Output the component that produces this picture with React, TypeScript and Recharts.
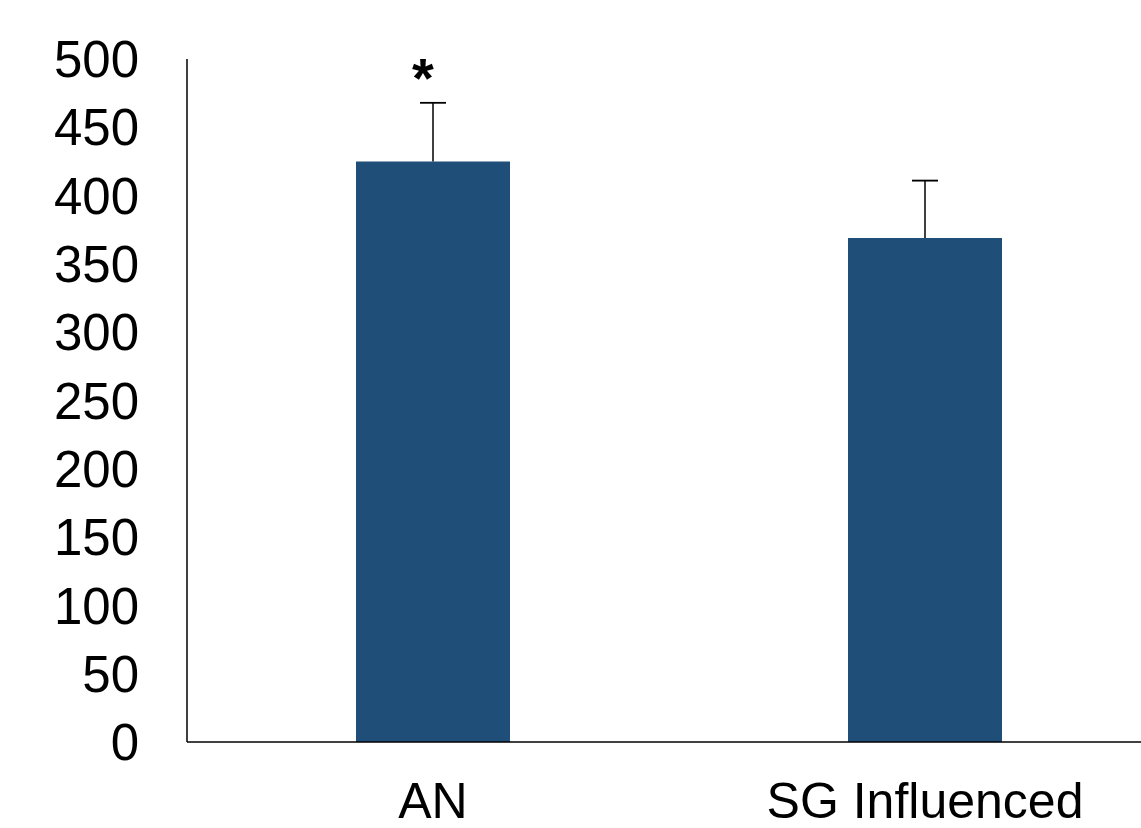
import React from "react";
import { BarChart, Bar, XAxis, YAxis, ErrorBar, LabelList } from "recharts";

const groups = ["AN", "SG Influenced"];
const means = [425, 369];
const errors = [43, 42];
const marks = ["*", ""];
const yTicks = [0, 50, 100, 150, 200, 250, 300, 350, 400, 450, 500];

// whisker goes up only: one ErrorBar for the stem, one collapsed to the top for the cap
const data = groups.map((name, i) => ({
  name,
  value: means[i],
  stem: [0, errors[i]],
  cap: [-errors[i], errors[i]],
  mark: marks[i],
}));

const font = "'Liberation Sans', Arial, sans-serif";

const Star = (props: any) => {
  const { x, y, width, value } = props;
  if (!value) return null;
  return (
    <text
      x={x + width / 2 - 10}
      y={y - 64}
      textAnchor="middle"
      fontFamily={font}
      fontWeight="bold"
      fontSize={56}
      fill="#000"
    >
      {value}
    </text>
  );
};

export default function App() {
  return (
    <div
      style={{
        position: "absolute",
        left: 0,
        top: 0,
        width: 1141,
        height: 828,
        overflow: "hidden",
        background: "#fff",
      }}
    >
      <BarChart
        width={1180}
        height={828}
        data={data}
        margin={{ top: 59, right: 9, left: 0, bottom: 0 }}
        barSize={154}
      >
        <XAxis
          dataKey="name"
          height={86}
          tickLine={false}
          tickSize={0}
          tickMargin={40}
          axisLine={{ stroke: "#000", strokeWidth: 1.5 }}
          tick={{ fill: "#000", fontSize: 50, fontFamily: font }}
        />
        <YAxis
          width={187}
          domain={[0, 500]}
          ticks={yTicks}
          interval={0}
          tickLine={false}
          tickSize={0}
          tickMargin={48}
          axisLine={{ stroke: "#000", strokeWidth: 1.5 }}
          tick={{ fill: "#000", fontSize: 51, fontFamily: font }}
        />
        <Bar dataKey="value" fill="#1f4e79" isAnimationActive={false}>
          <ErrorBar
            dataKey="stem"
            direction="y"
            width={0}
            stroke="#000"
            strokeWidth={1.5}
            isAnimationActive={false}
          />
          <ErrorBar
            dataKey="cap"
            direction="y"
            width={13}
            stroke="#000"
            strokeWidth={1.5}
            isAnimationActive={false}
          />
          <LabelList dataKey="mark" content={Star} />
        </Bar>
      </BarChart>
    </div>
  );
}
